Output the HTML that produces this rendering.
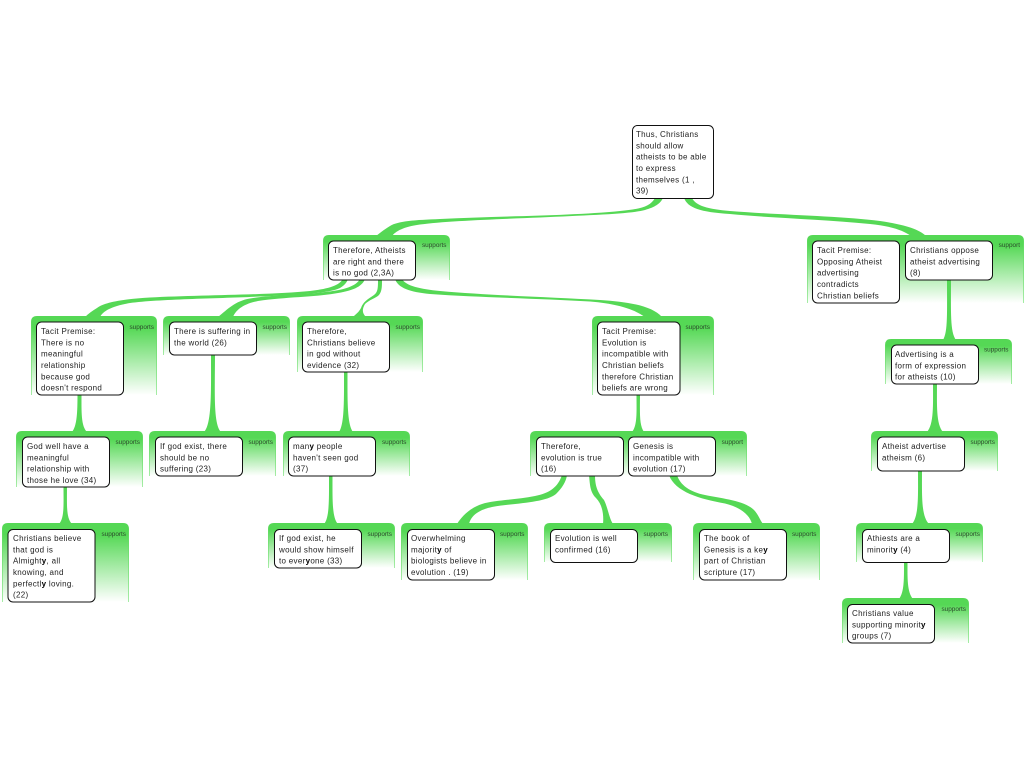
<!DOCTYPE html>
<html><head><meta charset="utf-8"><style>
html,body{margin:0;padding:0;background:#fff;width:1024px;height:768px;overflow:hidden}
svg{display:block}
.t{font-family:"Liberation Sans",sans-serif;font-size:8px;fill:#222;letter-spacing:.3px}
.s{font-family:"Liberation Sans",sans-serif;font-size:6.400px;fill:#2c4a2c;text-anchor:end}
.c{fill:url(#g);stroke:url(#e);stroke-width:1}
.b{fill:#fff;stroke:#111;stroke-width:1}
.l{fill:#55d855}
</style></head><body>
<svg width="1024" height="768" viewBox="0 0 1024 768" xmlns="http://www.w3.org/2000/svg">
<defs>
<linearGradient id="g" x1="0" y1="0" x2="0" y2="1"><stop offset="0" stop-color="#55d855"/><stop offset=".14" stop-color="#55d855"/><stop offset="1" stop-color="#fff"/></linearGradient>
<linearGradient id="e" x1="0" y1="0" x2="0" y2="1"><stop offset="0" stop-color="#55d855"/><stop offset="1" stop-color="#a5eca5"/></linearGradient>
</defs>

<!-- containers -->
<path class="c" d="M323.500,280V241Q323.500,235.500 329,235.500H444Q449.500,235.500 449.500,241V280"/>
<path class="c" d="M807.500,303V241Q807.500,235.500 813,235.500H1018Q1023.500,235.500 1023.500,241V303"/>
<path class="c" d="M31.500,395V322Q31.500,316.500 37,316.500H151Q156.500,316.500 156.500,322V395"/>
<path class="c" d="M163.500,355V322Q163.500,316.500 169,316.500H284Q289.500,316.500 289.500,322V355"/>
<path class="c" d="M297.500,372V322Q297.500,316.500 303,316.500H417Q422.500,316.500 422.500,322V372"/>
<path class="c" d="M592.500,395V322Q592.500,316.500 598,316.500H708Q713.500,316.500 713.500,322V395"/>
<path class="c" d="M885.500,384V345Q885.500,339.500 891,339.500H1006Q1011.500,339.500 1011.500,345V384"/>
<path class="c" d="M16.500,487V437Q16.500,431.500 22,431.500H137Q142.500,431.500 142.500,437V487"/>
<path class="c" d="M149.500,476V437Q149.500,431.500 155,431.500H270Q275.500,431.500 275.500,437V476"/>
<path class="c" d="M283.500,476V437Q283.500,431.500 289,431.500H404Q409.500,431.500 409.500,437V476"/>
<path class="c" d="M530.500,476V437Q530.500,431.500 536,431.500H741Q746.500,431.500 746.500,437V476"/>
<path class="c" d="M871.500,471V437Q871.500,431.500 877,431.500H992Q997.500,431.500 997.500,437V471"/>
<path class="c" d="M2.500,602V529Q2.500,523.500 8,523.500H123Q128.500,523.500 128.500,529V602"/>
<path class="c" d="M268.500,568V529Q268.500,523.500 274,523.500H389Q394.500,523.500 394.500,529V568"/>
<path class="c" d="M401.500,580V529Q401.500,523.500 407,523.500H522Q527.500,523.500 527.500,529V580"/>
<path class="c" d="M544.500,562V529Q544.500,523.500 550,523.500H666Q671.500,523.500 671.500,529V562"/>
<path class="c" d="M693.500,580V529Q693.500,523.500 699,523.500H814Q819.500,523.500 819.500,529V580"/>
<path class="c" d="M856.500,562V529Q856.500,523.500 862,523.500H977Q982.500,523.500 982.500,529V562"/>
<path class="c" d="M842.500,643V604Q842.500,598.500 848,598.500H963Q968.500,598.500 968.500,604V643"/>

<!-- connectors -->
<path class="l" d="M655,198C650,207 640,209 620,211C570,216 500,216 440,219C415,220 398,221 390,226C385,229 381,232 376,236L392,236C396,231 403,227 420,224.500C445,221 500,219 540,217.500C590,215 630,214 645,210C655,207 660,204 663,198Z"/>
<path class="l" d="M692,198C696,206 708,209 730,211C780,215 840,216 880,221C900,224 918,228 926,236L911,236C903,230 890,226 870,224C820,219 770,218 730,214C700,212 688,208 684,198Z"/>
<path class="l" d="M343,279C338,287 325,289 310,291C270,295 200,295 150,297.500C125,299 105,302 97,308C92,311 88,314 85,317L100,317C103,311 112,306 130,303C160,299 220,298.500 260,296.500C300,295 330,293 340,288C345,285 347,282 348,279Z"/>
<path class="l" d="M360,279C356,286 345,290 325,292C300,295 270,295 250,298.500C235,301 228,309 218,317L233,317C236,310 243,304 258,301C285,297 315,297 335,293.500C352,291 362,287 365,279Z"/>
<path class="l" d="M378,279C378,288 378,292 374,295C368,299 363,302 361,308C359,312 356,314 353,317L366,317C362,313 362,309 365,304C369,300 376,298 379,295C382,291 382,287 382,279Z"/>
<path class="l" d="M402,279C406,286 420,289 440,291C490,295.500 550,297 600,300C630,302 652,306 662,317L645,317C635,310 620,304 590,301.500C540,298.500 480,297.500 430,294C410,292 398,288 395,279Z"/>
<path class="l" d="M77.500,394L81.500,394C81.500,412 81,426 87,432L72,432C77,426 77.500,412 77.500,394Z"/>
<path class="l" d="M211,354L215,354C215,390 213,424 221,432L204,432C212,424 211,390 211,354Z"/>
<path class="l" d="M344,371L347.500,371C347.500,400 347,424 353,432L339,432C344.500,424 344,400 344,371Z"/>
<path class="l" d="M636.500,394L640,394C640,412 639,425 644,432L632,432C637.500,425 636.500,412 636.500,394Z"/>
<path class="l" d="M63.500,486L67,486C67,505 66,518 72,524L59,524C64.500,518 63.500,505 63.500,486Z"/>
<path class="l" d="M329,475L332.500,475C332.500,500 332,518 338,524L324,524C329.500,518 329,500 329,475Z"/>
<path class="l" d="M947,279L951,279C951,312 950,332 956,340L943,340C948,332 947,312 947,279Z"/>
<path class="l" d="M933,383L937,383C937,405 936,424 943,432L927,432C934,424 933,405 933,383Z"/>
<path class="l" d="M918,470L922,470C922,495 921,516 929,524L912,524C919,516 918,495 918,470Z"/>
<path class="l" d="M904,561L907.500,561C907.500,578 907,592 913,599L899,599C904.500,592 904,578 904,561Z"/>
<path class="l" d="M562,475C558,487 550,493 535,496C515,500 495,500 482,504C470,508 462,516 457,524L469,524C471,516 478,510 492,507C515,503 545,503 556,494C562,488 566,482 567,475Z"/>
<path class="l" d="M589,475C590,485 590,492 596,498C602,504 604,514 603,524L613,524C609,518 608,508 604,500C597,492 595,485 595,475Z"/>
<path class="l" d="M677,475C680,485 690,492 705,495C725,499 745,501 754,510C758,514 760,520 763,524L752,524C750,515 740,507 725,503.500C700,499 675,492 669,475Z"/>

<!-- boxes -->
<rect class="b" x="632.500" y="125.500" width="81" height="73" rx="5"/>
<rect class="b" x="328.500" y="241" width="87" height="39" rx="5"/>
<rect class="b" x="812.500" y="241" width="87" height="62" rx="5"/>
<rect class="b" x="905.500" y="241" width="87" height="39" rx="5"/>
<rect class="b" x="36.500" y="322" width="87" height="73" rx="5"/>
<rect class="b" x="169.500" y="322" width="87" height="33" rx="5"/>
<rect class="b" x="302.500" y="322" width="87" height="50" rx="5"/>
<rect class="b" x="597.500" y="322" width="82.500" height="73" rx="5"/>
<rect class="b" x="891.500" y="345" width="87" height="39" rx="5"/>
<rect class="b" x="22.500" y="437" width="87" height="50" rx="5"/>
<rect class="b" x="155.500" y="437" width="87" height="39" rx="5"/>
<rect class="b" x="288.500" y="437" width="87" height="39" rx="5"/>
<rect class="b" x="536.500" y="437" width="87" height="39" rx="5"/>
<rect class="b" x="628.500" y="437" width="87" height="39" rx="5"/>
<rect class="b" x="877.500" y="437" width="87" height="34" rx="5"/>
<rect class="b" x="8" y="529.500" width="87" height="72.500" rx="5"/>
<rect class="b" x="274.500" y="529.500" width="87" height="38.500" rx="5"/>
<rect class="b" x="407.500" y="529.500" width="87" height="50.500" rx="5"/>
<rect class="b" x="550.500" y="529.500" width="87" height="33" rx="5"/>
<rect class="b" x="699.500" y="529.500" width="87" height="50.500" rx="5"/>
<rect class="b" x="862.500" y="529.500" width="87" height="33" rx="5"/>
<rect class="b" x="847.500" y="604.500" width="87" height="38.500" rx="5"/>

<!-- text -->
<text class="t"><tspan x="636" y="137">Thus, Christians</tspan><tspan x="636" dy="11.330">should allow</tspan><tspan x="636" dy="11.330">atheists to be able</tspan><tspan x="636" dy="11.330">to express</tspan><tspan x="636" dy="11.330">themselves (1 ,</tspan><tspan x="636" dy="11.330">39)</tspan></text>
<text class="t"><tspan x="333" y="253">Therefore, Atheists</tspan><tspan x="333" dy="11.330">are right and there</tspan><tspan x="333" dy="11.330">is no god (2,3A)</tspan></text>
<text class="t"><tspan x="817" y="253">Tacit Premise:</tspan><tspan x="817" dy="11.330">Opposing Atheist</tspan><tspan x="817" dy="11.330">advertising</tspan><tspan x="817" dy="11.330">contradicts</tspan><tspan x="817" dy="11.330">Christian beliefs</tspan></text>
<text class="t"><tspan x="910" y="253">Christians oppose</tspan><tspan x="910" dy="11.330">atheist advertising</tspan><tspan x="910" dy="11.330">(8)</tspan></text>
<text class="t"><tspan x="41" y="334">Tacit Premise:</tspan><tspan x="41" dy="11.330">There is no</tspan><tspan x="41" dy="11.330">meaningful</tspan><tspan x="41" dy="11.330">relationship</tspan><tspan x="41" dy="11.330">because god</tspan><tspan x="41" dy="11.330">doesn't respond</tspan></text>
<text class="t"><tspan x="174" y="334">There is suffering in</tspan><tspan x="174" dy="11.330">the world (26)</tspan></text>
<text class="t"><tspan x="307" y="334">Therefore,</tspan><tspan x="307" dy="11.330">Christians believe</tspan><tspan x="307" dy="11.330">in god without</tspan><tspan x="307" dy="11.330">evidence (32)</tspan></text>
<text class="t"><tspan x="602" y="334">Tacit Premise:</tspan><tspan x="602" dy="11.330">Evolution is</tspan><tspan x="602" dy="11.330">incompatible with</tspan><tspan x="602" dy="11.330">Christian beliefs</tspan><tspan x="602" dy="11.330">therefore Christian</tspan><tspan x="602" dy="11.330">beliefs are wrong</tspan></text>
<text class="t"><tspan x="895" y="357">Advertising is a</tspan><tspan x="895" dy="11.330">form of expression</tspan><tspan x="895" dy="11.330">for atheists (10)</tspan></text>
<text class="t"><tspan x="27" y="449">God well have a</tspan><tspan x="27" dy="11.330">meaningful</tspan><tspan x="27" dy="11.330">relationship with</tspan><tspan x="27" dy="11.330">those he love (34)</tspan></text>
<text class="t"><tspan x="160" y="449">If god exist, there</tspan><tspan x="160" dy="11.330">should be no</tspan><tspan x="160" dy="11.330">suffering (23)</tspan></text>
<text class="t"><tspan x="293" y="449">man<tspan font-weight="bold" fill="#000">y</tspan> people</tspan><tspan x="293" dy="11.330">haven't seen god</tspan><tspan x="293" dy="11.330">(37)</tspan></text>
<text class="t"><tspan x="541" y="449">Therefore,</tspan><tspan x="541" dy="11.330">evolution is true</tspan><tspan x="541" dy="11.330">(16)</tspan></text>
<text class="t"><tspan x="633" y="449">Genesis is</tspan><tspan x="633" dy="11.330">incompatible with</tspan><tspan x="633" dy="11.330">evolution (17)</tspan></text>
<text class="t"><tspan x="882" y="449">Atheist advertise</tspan><tspan x="882" dy="11.330">atheism (6)</tspan></text>
<text class="t"><tspan x="13" y="541">Christians believe</tspan><tspan x="13" dy="11.330">that god is</tspan><tspan x="13" dy="11.330">Almight<tspan font-weight="bold" fill="#000">y</tspan>, all</tspan><tspan x="13" dy="11.330">knowing, and</tspan><tspan x="13" dy="11.330">perfectl<tspan font-weight="bold" fill="#000">y</tspan> loving.</tspan><tspan x="13" dy="11.330">(22)</tspan></text>
<text class="t"><tspan x="279" y="541">If god exist, he</tspan><tspan x="279" dy="11.330">would show himself</tspan><tspan x="279" dy="11.330">to ever<tspan font-weight="bold" fill="#000">y</tspan>one (33)</tspan></text>
<text class="t"><tspan x="411" y="541">Overwhelming</tspan><tspan x="411" dy="11.330">majorit<tspan font-weight="bold" fill="#000">y</tspan> of</tspan><tspan x="411" dy="11.330">biologists believe in</tspan><tspan x="411" dy="11.330">evolution . (19)</tspan></text>
<text class="t"><tspan x="555" y="541">Evolution is well</tspan><tspan x="555" dy="11.330">confirmed (16)</tspan></text>
<text class="t"><tspan x="704" y="541">The book of</tspan><tspan x="704" dy="11.330">Genesis is a ke<tspan font-weight="bold" fill="#000">y</tspan></tspan><tspan x="704" dy="11.330">part of Christian</tspan><tspan x="704" dy="11.330">scripture (17)</tspan></text>
<text class="t"><tspan x="867" y="541">Athiests are a</tspan><tspan x="867" dy="11.330">minorit<tspan font-weight="bold" fill="#000">y</tspan> (4)</tspan></text>
<text class="t"><tspan x="852" y="616">Christians value</tspan><tspan x="852" dy="11.330">supporting minorit<tspan font-weight="bold" fill="#000">y</tspan></tspan><tspan x="852" dy="11.330">groups (7)</tspan></text>

<!-- link labels -->
<text class="s" x="446.500" y="247">supports</text>
<text class="s" x="1020" y="247">support</text>
<text class="s" x="154" y="329">supports</text>
<text class="s" x="287" y="329">supports</text>
<text class="s" x="420" y="329">supports</text>
<text class="s" x="710" y="329">supports</text>
<text class="s" x="1008.500" y="351.500">supports</text>
<text class="s" x="140" y="444">supports</text>
<text class="s" x="273" y="444">supports</text>
<text class="s" x="406.500" y="444">supports</text>
<text class="s" x="743" y="444">support</text>
<text class="s" x="995" y="444">supports</text>
<text class="s" x="126" y="536">supports</text>
<text class="s" x="392" y="536">supports</text>
<text class="s" x="524.500" y="536">supports</text>
<text class="s" x="668" y="536">supports</text>
<text class="s" x="816.500" y="536">supports</text>
<text class="s" x="980" y="536">supports</text>
<text class="s" x="966" y="611">supports</text>
</svg>
</body></html>
